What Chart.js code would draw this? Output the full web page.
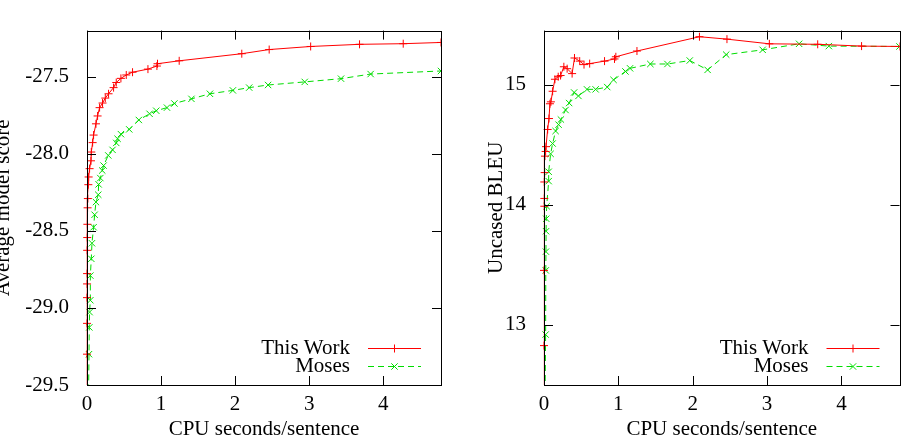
<!DOCTYPE html>
<html>
<head>
<meta charset="utf-8">
<script src="https://cdn.jsdelivr.net/npm/chart.js@4"></script>
<style>
  body { margin: 0; background: #fff; }
  #wrap { position: relative; width: 905px; height: 442px; }
  .box { position: absolute; top: 0; height: 442px; }
</style>
</head>
<body>
<div id="wrap">
  <div class="box" style="left:0;width:452px"><canvas id="scoreChart"></canvas></div>
  <div class="box" style="left:452px;width:453px"><canvas id="bleuChart"></canvas></div>
</div>
<script>
// left panel: average model score vs CPU time
const scoreTimeThisWork = [0, 0, 0, 0, 0.001, 0.001, 0.002, 0.003, 0.005, 0.008, 0.012, 0.018, 0.022, 0.035, 0.054, 0.058, 0.076, 0.089, 0.121, 0.143, 0.17, 0.21, 0.247, 0.291, 0.359, 0.395, 0.458, 0.53, 0.615, 0.823, 0.944, 0.952, 1.245, 2.09, 2.46, 3.02, 3.68, 4.27, 4.78];
const scoreThisWork = [-29.6, -29.30, -29.10, -28.933, -28.844, -28.777, -28.626, -28.543, -28.457, -28.35, -28.29, -28.2, -28.15, -28.096, -28.045, -27.988, -27.927, -27.878, -27.805, -27.754, -27.70, -27.67, -27.638, -27.61, -27.57, -27.537, -27.51, -27.488, -27.47, -27.45, -27.43, -27.415, -27.396, -27.35, -27.323, -27.303, -27.289, -27.285, -27.277];
const scoreTimeMoses = [0.02, 0.027, 0.031, 0.035, 0.045, 0.045, 0.058, 0.067, 0.089, 0.103, 0.121, 0.152, 0.157, 0.18, 0.206, 0.224, 0.287, 0.345, 0.395, 0.413, 0.458, 0.57, 0.70, 0.845, 0.935, 1.08, 1.18, 1.41, 1.66, 1.97, 2.19, 2.445, 2.94, 3.43, 3.83, 4.78];
const scoreMoses = [-29.6, -29.30, -29.126, -29.027, -28.95, -28.79, -28.681, -28.58, -28.476, -28.395, -28.313, -28.265, -28.198, -28.157, -28.108, -28.076, -28.01, -27.974, -27.929, -27.902, -27.872, -27.841, -27.78, -27.74, -27.72, -27.70, -27.673, -27.643, -27.61, -27.588, -27.57, -27.553, -27.533, -27.512, -27.482, -27.462];

// right panel: uncased BLEU vs CPU time
const bleuTimeThisWork = [0, 0, 0, 0.004, 0.004, 0.004, 0.009, 0.013, 0.022, 0.027, 0.049, 0.067, 0.08, 0.093, 0.116, 0.147, 0.191, 0.223, 0.267, 0.311, 0.378, 0.41, 0.48, 0.538, 0.614, 0.814, 0.948, 0.966, 1.25, 2.09, 2.46, 3.03, 3.68, 4.27, 4.78];
const bleuThisWork = [12.45, 12.828, 13.454, 13.988, 14.053, 14.19, 14.268, 14.405, 14.444, 14.484, 14.627, 14.718, 14.841, 14.857, 14.945, 15.045, 15.066, 15.076, 15.149, 15.133, 15.092, 15.222, 15.196, 15.167, 15.175, 15.196, 15.214, 15.232, 15.28, 15.399, 15.379, 15.34, 15.336, 15.321, 15.318];
const bleuTimeMoses = [0.015, 0.022, 0.024, 0.026, 0.028, 0.03, 0.036, 0.063, 0.063, 0.089, 0.116, 0.156, 0.196, 0.227, 0.29, 0.338, 0.405, 0.463, 0.578, 0.694, 0.85, 0.935, 1.095, 1.157, 1.43, 1.66, 1.96, 2.20, 2.45, 2.94, 3.43, 3.83, 4.78];
const bleuMoses = [12.45, 12.92, 13.454, 13.61, 13.78, 13.884, 13.988, 14.197, 14.275, 14.424, 14.51, 14.614, 14.667, 14.71, 14.789, 14.847, 14.935, 14.906, 14.961, 14.961, 14.98, 15.04, 15.11, 15.136, 15.172, 15.172, 15.201, 15.123, 15.25, 15.29, 15.34, 15.321, 15.318];

// tick labels
const cpuTicks = [0, 1, 2, 3, 4];
const scoreTicks = [-29.5, -29.0, -28.5, -28.0, -27.5];
const bleuTicks = [13, 14, 15];

const serif = { family: '"Liberation Serif", "Times New Roman", serif', size: 21 };
const RED = '#ff0000';
const GREEN = '#00dd00';

function toPoints(xs, ys) {
    return xs.map((x, i) => ({ x: x, y: ys[i] }));
}

// gnuplot style frame: border all round, ticks pointing inwards on every side
const framePlugin = {
    id: 'frame',
    afterDatasetsDraw(chart) {
        const ctx = chart.ctx;
        const a = chart.chartArea;
        const len = 9;
        ctx.save();
        ctx.strokeStyle = '#000';
        ctx.lineWidth = 1;
        ctx.beginPath();
        chart.scales.x.ticks.forEach(t => {
            const px = Math.round(chart.scales.x.getPixelForValue(t.value)) + 0.5;
            ctx.moveTo(px, a.bottom); ctx.lineTo(px, a.bottom - len);
            ctx.moveTo(px, a.top); ctx.lineTo(px, a.top + len);
        });
        chart.scales.y.ticks.forEach(t => {
            const py = Math.round(chart.scales.y.getPixelForValue(t.value)) + 0.5;
            ctx.moveTo(a.left, py); ctx.lineTo(a.left + len, py);
            ctx.moveTo(a.right, py); ctx.lineTo(a.right - len, py);
        });
        ctx.stroke();
        ctx.strokeRect(Math.round(a.left) + 0.5, Math.round(a.top) + 0.5,
            Math.round(a.right - a.left), Math.round(a.bottom - a.top));
        ctx.restore();
    }
};

// key in the lower right: label, then a sample of the line with its marker
const keyPlugin = {
    id: 'key',
    afterDraw(chart) {
        const ctx = chart.ctx;
        const a = chart.chartArea;
        ctx.save();
        ctx.font = serif.size + 'px ' + serif.family;
        ctx.textAlign = 'right';
        ctx.textBaseline = 'middle';
        chart.data.datasets.forEach((ds, i) => {
            const y = a.bottom - 37 + i * 18;
            ctx.fillStyle = '#000';
            ctx.fillText(ds.label, a.right - 91, y);
            ctx.strokeStyle = ds.borderColor;
            ctx.lineWidth = 1;
            ctx.setLineDash(ds.borderDash || []);
            ctx.beginPath();
            ctx.moveTo(a.right - 73, y + 0.5);
            ctx.lineTo(a.right - 20, y + 0.5);
            ctx.stroke();
            ctx.setLineDash([]);
            Chart.helpers.drawPoint(ctx, {
                pointStyle: ds.pointStyle, radius: ds.pointRadius, rotation: 0, borderWidth: 1
            }, a.right - 46.5, y + 0.5);
        });
        ctx.restore();
    }
};

function makeChart(id, datasets, yTicks, yMin, yMax, yTitle, yFmt, yWidth, yTitlePad, padRight) {
    return new Chart(document.getElementById(id), {
        type: 'scatter',
        data: { datasets: datasets },
        options: {
            responsive: true,
            maintainAspectRatio: false,
            animation: false,
            layout: { padding: { left: 0, right: padRight, top: 8, bottom: 0 } },
            plugins: { legend: { display: false }, tooltip: { enabled: false } },
            scales: {
                x: {
                    type: 'linear', min: 0, max: 4.78,
                    grid: { display: false, drawTicks: false }, border: { display: false },
                    afterBuildTicks: s => { s.ticks = cpuTicks.map(v => ({ value: v })); },
                    afterFit: s => { s.height = 57; },
                    ticks: { font: serif, color: '#000', padding: 7, maxRotation: 0, callback: v => String(v) },
                    title: { display: true, text: 'CPU seconds/sentence', font: serif, color: '#000', padding: { top: 0, bottom: 0 } }
                },
                y: {
                    type: 'linear', min: yMin, max: yMax,
                    grid: { display: false, drawTicks: false }, border: { display: false },
                    afterBuildTicks: s => { s.ticks = yTicks.map(v => ({ value: v })); },
                    afterFit: s => { s.width = yWidth; },
                    ticks: { font: serif, color: '#000', padding: 18, callback: yFmt },
                    title: { display: true, text: yTitle, font: serif, color: '#000', padding: { top: yTitlePad, bottom: 0 } }
                }
            }
        },
        plugins: [framePlugin, keyPlugin]
    });
}

function series(label, xs, ys, color, dash, style, radius) {
    return {
        label: label,
        data: toPoints(xs, ys),
        showLine: true,
        borderColor: color,
        backgroundColor: color,
        borderWidth: 1,
        borderDash: dash,
        pointStyle: style,
        pointRadius: radius,
        pointBorderWidth: 1,
        pointHoverRadius: radius,
        tension: 0,
        clip: { left: 5, right: 0, top: 0, bottom: 0 }
    };
}

makeChart('scoreChart', [
    series('This Work', scoreTimeThisWork, scoreThisWork, RED, [], 'cross', 4),
    series('Moses', scoreTimeMoses, scoreMoses, GREEN, [6, 4], 'crossRot', 4.5)
], scoreTicks, -29.5, -27.2, 'Average model score', v => v.toFixed(1), 87, -9, 11);

makeChart('bleuChart', [
    series('This Work', bleuTimeThisWork, bleuThisWork, RED, [], 'cross', 4),
    series('Moses', bleuTimeMoses, bleuMoses, GREEN, [6, 4], 'crossRot', 4.5)
], bleuTicks, 12.5, 15.45, 'Uncased BLEU', v => String(v), 92, 32, 3);
</script>
</body>
</html>
